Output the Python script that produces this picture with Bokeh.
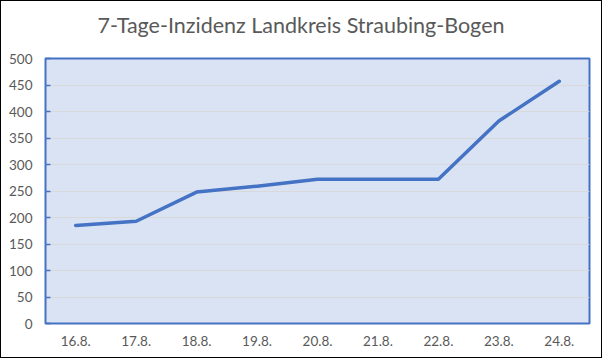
from bokeh.plotting import figure
from bokeh.models import FactorRange, Range1d, FixedTicker, Div
from bokeh.layouts import column
from bokeh.embed import file_html
from bokeh.resources import INLINE

dates = ["16.8.", "17.8.", "18.8.", "19.8.", "20.8.", "21.8.", "22.8.", "23.8.", "24.8."]
incidence = [185, 193, 248, 259, 272, 272, 272, 382, 457]
y_ticks = [0, 50, 100, 150, 200, 250, 300, 350, 400, 450, 500]
title_text = "7-Tage-Inzidenz Landkreis Straubing-Bogen"

title_div = Div(
    text=('<div style="font-family: Lato; font-size: 21.5px; color: #595959; '
          'text-align: center; width: 600px; line-height: 26px; padding-top: 11px; '
          'white-space: nowrap;">' + title_text + '</div>'),
    width=600, height=48, margin=(0, 0, 0, 0))

p = figure(width=600, height=308, x_range=FactorRange(*dates, range_padding=0),
           y_range=Range1d(0, 500), output_backend="svg", toolbar_location=None,
           min_border_left=44, min_border_right=12, min_border_top=9, min_border_bottom=34,
           margin=(0, 0, 0, 0))

p.line(dates, incidence, line_color="#4472c4", line_width=3.5, line_cap="round", line_join="round")

p.background_fill_color = "#dae3f3"
p.border_fill_color = "white"
p.outline_line_color = "#4472c4"
p.outline_line_width = 2
p.outline_line_alpha = 1

p.xgrid.grid_line_color = None
p.ygrid.grid_line_color = "#d9d9d9"
p.ygrid.grid_line_width = 1

p.yaxis.ticker = FixedTicker(ticks=y_ticks)
p.yaxis.axis_line_color = None
p.yaxis.major_tick_in = 5
p.yaxis.major_tick_out = 0
p.yaxis.major_tick_line_color = "#4472c4"
p.yaxis.major_tick_line_width = 1.5
p.yaxis.minor_tick_line_color = None
p.yaxis.major_label_standoff = 13

p.xaxis.axis_line_color = None
p.xaxis.major_tick_line_color = None
p.xaxis.minor_tick_line_color = None
p.xaxis.major_label_standoff = 6

for ax in (p.xaxis, p.yaxis):
    ax.major_label_text_font = "Lato"
    ax.major_label_text_font_size = "13.5px"
    ax.major_label_text_color = "#595959"

layout = column(title_div, p, spacing=0)
layout.styles = {"border": "1px solid #000000", "background-color": "white"}

open("out.html", "w").write(file_html(layout, INLINE))
